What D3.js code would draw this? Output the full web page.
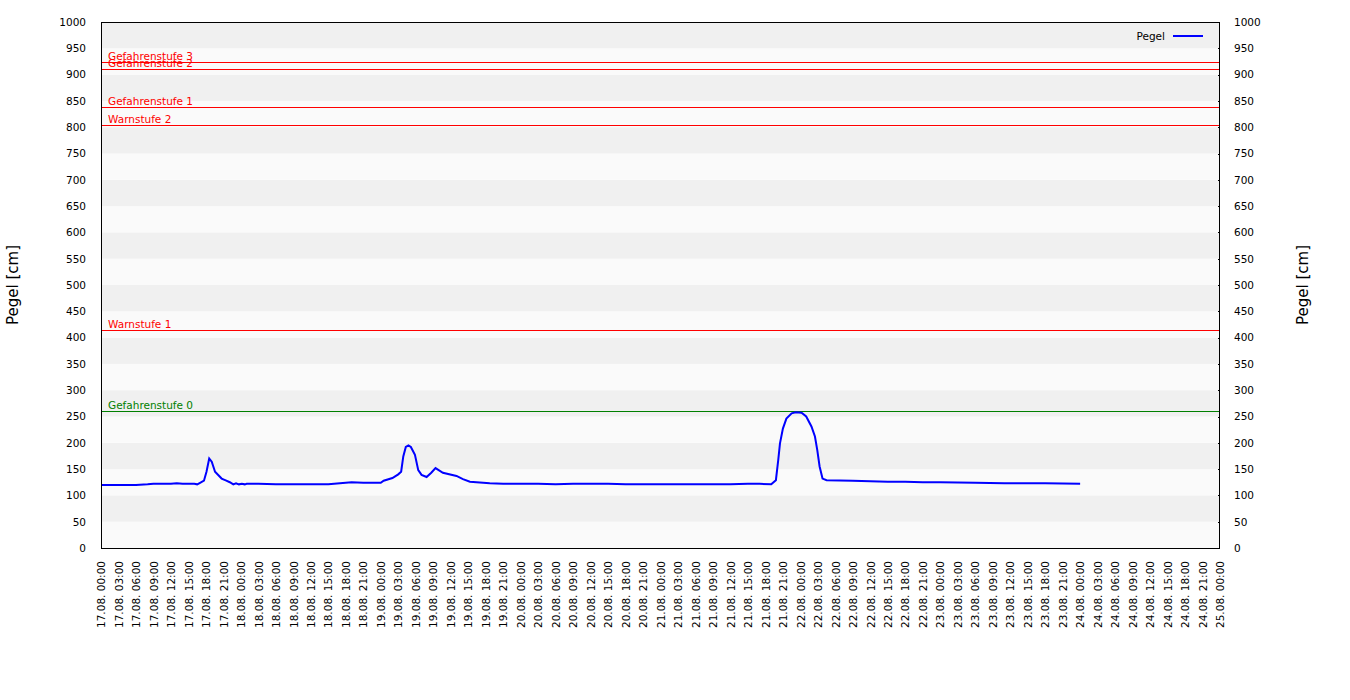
<!DOCTYPE html>
<html><head><meta charset="utf-8">
<script src="https://cdn.jsdelivr.net/npm/d3@7"></script>
<style>body{margin:0;background:#fff}svg{font-family:"DejaVu Sans",sans-serif}</style>
</head><body><svg id="c" width="1350" height="700"></svg>
<script>
const times = ["17.08. 00:00","17.08. 03:00","17.08. 06:00","17.08. 08:00","17.08. 09:00","17.08. 12:00","17.08. 13:00","17.08. 14:00","17.08. 16:00","17.08. 16:30","17.08. 17:00","17.08. 17:40","17.08. 18:06","17.08. 18:34","17.08. 19:00","17.08. 19:34","17.08. 20:42","17.08. 21:30","17.08. 22:06","17.08. 22:42","17.08. 23:10","17.08. 23:40","18.08. 00:10","18.08. 00:40","18.08. 01:00","18.08. 03:00","18.08. 06:00","18.08. 09:00","18.08. 12:00","18.08. 15:00","18.08. 16:00","18.08. 17:00","18.08. 18:00","18.08. 19:00","18.08. 21:00","19.08. 00:00","19.08. 00:30","19.08. 02:00","19.08. 03:00","19.08. 03:30","19.08. 03:52","19.08. 04:18","19.08. 04:45","19.08. 05:10","19.08. 05:52","19.08. 06:26","19.08. 07:00","19.08. 07:52","19.08. 08:40","19.08. 09:24","19.08. 10:40","19.08. 13:00","19.08. 14:06","19.08. 15:18","19.08. 18:42","19.08. 21:00","20.08. 00:00","20.08. 03:00","20.08. 06:00","20.08. 09:00","20.08. 12:00","20.08. 15:00","20.08. 18:00","20.08. 21:00","21.08. 00:00","21.08. 03:00","21.08. 06:00","21.08. 09:00","21.08. 12:00","21.08. 15:00","21.08. 17:00","21.08. 19:00","21.08. 19:48","21.08. 20:12","21.08. 20:30","21.08. 21:00","21.08. 21:36","21.08. 22:30","21.08. 23:12","22.08. 00:12","22.08. 01:00","22.08. 01:54","22.08. 02:30","22.08. 02:54","22.08. 03:18","22.08. 03:48","22.08. 04:30","22.08. 09:00","22.08. 12:00","22.08. 15:00","22.08. 18:00","22.08. 21:00","23.08. 00:00","23.08. 06:00","23.08. 11:00","23.08. 15:00","23.08. 18:00","24.08. 00:00"];
const values = [120,120,120,121,122,122,123,122,122,121,124,128,145,170,164,145,132,128,125,121,123,121,122,121,122,122,121,121,121,121,122,123,124,125,124,124,128,133,140,145,174,192,195,192,177,148,139,135,143,152,143,137,131,126,123,122,122,122,121,122,122,122,121,121,121,121,121,121,121,122,122,121,129,167,199,227,246,256,258,257,250,231,212,186,155,132,129,128,127,126,126,125,125,124,123,123,123,122];
const thrNames = ["Gefahrenstufe 3","Gefahrenstufe 2","Gefahrenstufe 1","Warnstufe 2","Warnstufe 1","Gefahrenstufe 0"];
const thrValues = [924,910,838,804,414,260];
const thrColors = ["#ff0000","#ff0000","#ff0000","#ff0000","#ff0000","#008000"];
const yTicks = d3.range(0,1001,50);

const svg = d3.select("#c");
const L=101,R=1220,T=22,B=548;
const FS=10.5;
const parse = d3.timeParse("%d.%m. %H:%M");
const fmt = d3.timeFormat("%d.%m. %H:%M");
const x = d3.scaleTime().domain([parse("17.08. 00:00"),parse("25.08. 00:00")]).range([L,R]);
const y = d3.scaleLinear().domain([0,1000]).range([B,T]);

// bands
const bands = d3.range(0,1000,50);
svg.append("g").selectAll("rect").data(bands).join("rect")
  .attr("x",L).attr("width",R-L)
  .attr("y",d=>y(d+50)).attr("height",d=>y(d)-y(d+50))
  .attr("fill",d=>((1000-d-50)/50)%2===0?"#f0f0f0":"#fafafa");

// thresholds
const tg = svg.append("g");
thrValues.forEach((v,i)=>{
  tg.append("line").attr("x1",L).attr("x2",R).attr("y1",Math.round(y(v))+0.5).attr("y2",Math.round(y(v))+0.5)
    .attr("stroke",thrColors[i]).attr("stroke-width",1);
  tg.append("text").attr("x",108).attr("y",Math.round(y(v))-2).attr("font-size",FS).attr("fill",thrColors[i]).text(thrNames[i]);
});

// line
const data = times.map((t,i)=>({t:parse(t),v:values[i]}));
svg.append("path").datum(data).attr("fill","none").attr("stroke","#0000ff").attr("stroke-width",2)
  .attr("d",d3.line().x(d=>x(d.t)).y(d=>y(d.v)));

// frame
svg.append("rect").attr("x",L+0.5).attr("y",T+0.5).attr("width",R-L-1).attr("height",B-T).attr("fill","none").attr("stroke","#000");

// y axes
const yf = d3.format("d");
const ly = svg.append("g").attr("transform",`translate(${L},0)`).call(d3.axisLeft(y).tickValues(yTicks).tickFormat(yf).tickSize(0).tickPadding(15));
const ry = svg.append("g").attr("transform",`translate(${R},0)`).call(d3.axisRight(y).tickValues(yTicks).tickFormat(yf).tickSize(0).tickPadding(14));
[ly,ry].forEach(g=>{g.select(".domain").remove();g.selectAll("text").attr("font-size",FS).attr("font-family","DejaVu Sans").attr("fill","#000");});
svg.append("g").selectAll("line").data(yTicks).join("line")
  .attr("x1",R-2).attr("x2",R).attr("y1",d=>Math.round(y(d))+0.5).attr("y2",d=>Math.round(y(d))+0.5).attr("stroke","#000");

// x axis
const xt = d3.timeHour.every(3).range(parse("17.08. 00:00"), d3.timeHour.offset(parse("25.08. 00:00"),1));
const xa = svg.append("g").attr("transform",`translate(0,${B})`).call(d3.axisBottom(x).tickValues(xt).tickFormat(fmt).tickSize(0));
xa.select(".domain").remove();
xa.selectAll("text").attr("font-size",FS).attr("font-family","DejaVu Sans").attr("fill","#000")
  .attr("transform","rotate(-90)").attr("text-anchor","end").attr("x",-13).attr("y",0).attr("dy","0.35em");

// titles
svg.append("text").attr("transform","translate(18,285) rotate(-90)").attr("text-anchor","middle").attr("font-size",15).text("Pegel [cm]");
svg.append("text").attr("transform","translate(1308,285) rotate(-90)").attr("text-anchor","middle").attr("font-size",15).text("Pegel [cm]");

// legend
svg.append("text").attr("x",1165).attr("y",40).attr("text-anchor","end").attr("font-size",FS).text("Pegel");
svg.append("line").attr("x1",1173).attr("x2",1203).attr("y1",36).attr("y2",36).attr("stroke","#0000ff").attr("stroke-width",2);
</script></body></html>
